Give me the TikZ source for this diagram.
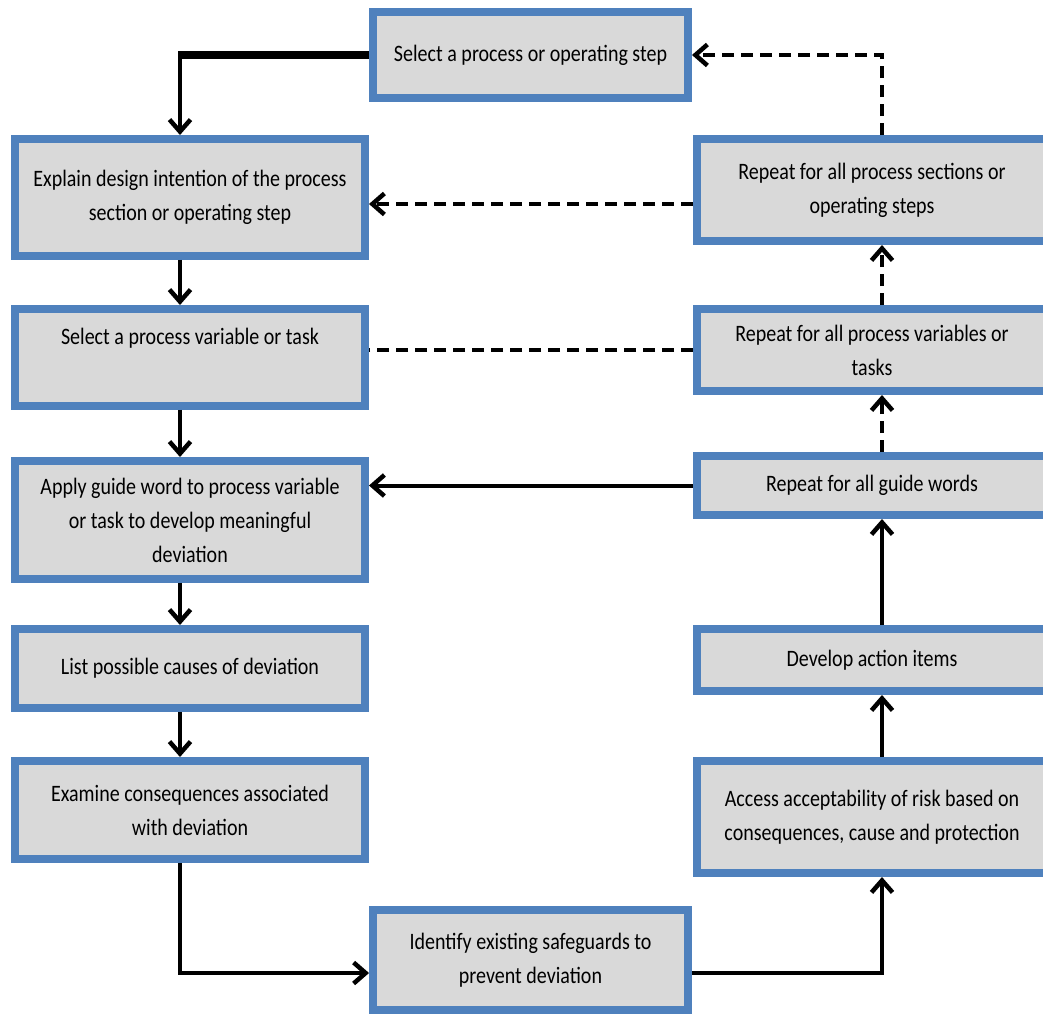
\documentclass[tikz,border=0pt]{standalone}
\usepackage{fontspec}
\setmainfont{Carlito}[FakeStretch=0.85]
\usetikzlibrary{arrows.meta}
\definecolor{boxblue}{HTML}{4F81BD}
\definecolor{boxgray}{HTML}{D9D9D9}

\begin{document}
\begin{tikzpicture}[x=0.02cm, y=-0.02cm,
	box/.style={draw=boxblue, fill=boxgray, line width=0.16cm, align=center, inner sep=2pt, font=\fontsize{13.4}{19.3}\selectfont},
	lbox/.style={box, minimum width=7cm},
	flow/.style={line width=0.08cm, -{Straight Barb[length=0.24cm, width=0.42cm, line width=0.09cm]}},
	back/.style={flow, line width=0.09cm, dash pattern=on 0.24cm off 0.14cm}]
	   \useasboundingbox (0,0) rectangle (1043,1014);
	   \coordinate (lspine) at (180,0);
	   \coordinate (rspine) at (882,0);
	   % left column, top to bottom
	   \node [box, minimum width=6.3cm, minimum height=1.72cm] (sel) at (530.5,55) {Select a process or operating step};
	   \node [lbox, minimum height=2.34cm] (expl) at (190,197.5) {Explain design intention of the process\\section or operating step};
	   \node [lbox, minimum height=1.94cm, text depth=24pt] (selvar) at (190,357.5) {Select a process variable or task};
	   \node [lbox, minimum height=2.36cm] (apply) at (190,520) {Apply guide word to process variable\\or task to develop meaningful\\deviation};
	   \node [lbox, minimum height=1.58cm] (causes) at (190,668.5) {List possible causes of deviation};
	   \node [lbox, minimum height=1.96cm] (exam) at (190,810) {Examine consequences associated\\with deviation};
	   \node [box, minimum width=6.3cm, minimum height=2cm] (ident) at (530.5,960) {Identify existing safeguards to\\prevent deviation};
	   % right column, bottom to top
	   \node [lbox, minimum height=2.24cm] (access) at (872,817) {Access acceptability of risk based on\\consequences, cause and protection};
	   \node [lbox, minimum height=1.24cm] (action) at (872,660) {Develop action items};
	   \node [lbox, minimum height=1.18cm] (guide) at (872,485.5) {Repeat for all guide words};
	   \node [lbox, minimum height=1.64cm] (repvar) at (872,350) {Repeat for all process variables or\\tasks};
	   \node [lbox, minimum height=2.04cm] (repsec) at (872,190) {Repeat for all process sections or\\operating steps};
	   % solid flow
	   \draw [flow] (sel.west) -| (expl.north -| lspine);
	   \draw [line width=0.15cm] (sel.west) -- ([xshift=-0.04cm]sel.west -| lspine);
	   \draw [flow] (expl.south -| lspine) -- (selvar.north -| lspine);
	   \draw [flow] (selvar.south -| lspine) -- (apply.north -| lspine);
	   \draw [flow] (apply.south -| lspine) -- (causes.north -| lspine);
	   \draw [flow] (causes.south -| lspine) -- (exam.north -| lspine);
	   \draw [flow] (exam.south -| lspine) |- ([yshift=-0.26cm]ident.west);
	   \draw [flow] ([yshift=-0.26cm]ident.east) -| (access.south -| rspine);
	   \draw [flow] (access.north -| rspine) -- (action.south -| rspine);
	   \draw [flow] (action.north -| rspine) -- (guide.south -| rspine);
	   \draw [flow] (guide.west) -- (guide.west -| apply.east);
	   % dashed loops back
	   \draw [back] (guide.north -| rspine) -- (repvar.south -| rspine);
	   \draw [back, -] (repvar.west) -- (repvar.west -| selvar.east);
	   \draw [back] (repvar.north -| rspine) -- (repsec.south -| rspine);
	   \draw [back] ([yshift=-0.28cm]repsec.west) -- ([yshift=-0.28cm]repsec.west -| expl.east);
	   \draw [back] (repsec.north -| rspine) |- (sel.east);
	\end{tikzpicture}
\end{document}
